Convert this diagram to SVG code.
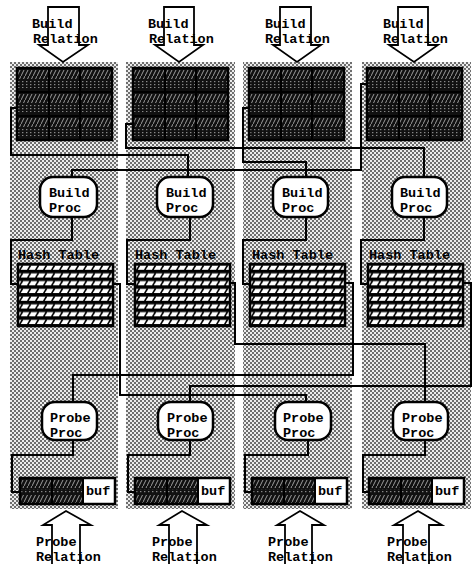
<svg xmlns="http://www.w3.org/2000/svg" xmlns:xlink="http://www.w3.org/1999/xlink" width="473" height="564" viewBox="0 0 473 564">
<style>
.t{font-family:"Liberation Mono","Courier New",monospace;font-weight:bold;font-size:13.5px;fill:#000}
.panel{fill:url(#stip)}
.node{fill:#fff;stroke:#000;stroke-width:2.5}
.arrow{fill:#fff;stroke:#000;stroke-width:1.8;stroke-linejoin:miter}
.wire{fill:none;stroke:#000;stroke-width:2}
.div{stroke:#000;stroke-width:2}
</style>
<defs>
<pattern id="stip" x="0" y="0" width="4" height="4" patternUnits="userSpaceOnUse">
<rect width="4" height="4" fill="#ececec"/>
<rect x="0" y="0" width="2" height="2" fill="#6e6e6e"/>
<rect x="2" y="2" width="2" height="2" fill="#6e6e6e"/>
</pattern>
<pattern id="hatch" x="0" y="0" width="4" height="8" patternUnits="userSpaceOnUse">
<rect width="4" height="8" fill="#111"/>
<line x1="0" y1="8" x2="4" y2="0" stroke="#aaa" stroke-width="0.9"/>
</pattern>
<pattern id="dots" x="0" y="0" width="4" height="3" patternUnits="userSpaceOnUse">
<rect width="4" height="3" fill="#111"/>
<rect x="1" y="1" width="1.4" height="1.2" fill="#888"/>
</pattern>
<pattern id="ht" x="0" y="0" width="8" height="7.75" patternUnits="userSpaceOnUse">
<rect width="8" height="7.75" fill="#000"/>
<rect x="0" y="1.6" width="8" height="4.2" fill="#fff"/>
<line x1="1.6" y1="6.2" x2="4.6" y2="1.2" stroke="#000" stroke-width="1.6"/>
</pattern>
<g id="topbuf">
<rect x="0" y="0" width="95" height="72" fill="#111"/>
<rect x="1" y="2" width="93" height="9" fill="url(#hatch)"/>
<rect x="1" y="13" width="93" height="7" fill="url(#dots)"/>
<rect x="1" y="26" width="93" height="9" fill="url(#hatch)"/>
<rect x="1" y="37" width="93" height="7" fill="url(#dots)"/>
<rect x="1" y="50" width="93" height="9" fill="url(#hatch)"/>
<rect x="1" y="61" width="93" height="7" fill="url(#dots)"/>
<line class="div" x1="32" y1="0" x2="32" y2="72"/>
<line class="div" x1="63" y1="0" x2="63" y2="72"/>
<line class="div" x1="0" y1="24" x2="95" y2="24"/>
<line class="div" x1="0" y1="48" x2="95" y2="48"/>
<rect x="0" y="0" width="95" height="72" fill="none" stroke="#000" stroke-width="2.5"/>
</g>
<g id="hashtbl">
<rect x="0" y="0" width="95" height="62" fill="url(#ht)" stroke="#000" stroke-width="2.5"/>
</g>
<g id="botbuf">
<rect x="0" y="0" width="63" height="26" fill="#111"/>
<rect x="1" y="2" width="62" height="8" fill="url(#hatch)"/>
<rect x="1" y="11" width="62" height="5" fill="url(#dots)"/>
<rect x="1" y="17" width="62" height="8" fill="url(#hatch)"/>
<rect x="63" y="0" width="32" height="26" fill="#fff"/>
<line class="div" x1="32" y1="0" x2="32" y2="26"/>
<line class="div" x1="63" y1="0" x2="63" y2="26"/>
<rect x="0" y="0" width="95" height="26" fill="none" stroke="#000" stroke-width="2.5"/>
</g>
</defs>
<rect width="473" height="564" fill="#fff"/>
<g id="panels">
<rect class="panel" x="10" y="62" width="108" height="447"/>
<rect class="panel" x="126" y="62" width="109" height="447"/>
<rect class="panel" x="243" y="62" width="109" height="447"/>
<rect class="panel" x="362" y="62" width="109" height="447"/>
</g>
<g id="buildrel1"><polygon class="arrow" points="48,7 79,7 79,45 88,45 63,62 39,45 48,45"/><text class="t" x="32" y="28">Build</text><text class="t" x="33" y="43">Relation</text></g>
<g id="buildrel2"><polygon class="arrow" points="164,7 194,7 194,45 203,45 179,62 155,45 164,45"/><text class="t" x="148" y="28">Build</text><text class="t" x="149" y="43">Relation</text></g>
<g id="buildrel3"><polygon class="arrow" points="280,7 311,7 311,45 321,45 297,62 273,45 280,45"/><text class="t" x="265" y="28">Build</text><text class="t" x="265" y="43">Relation</text></g>
<g id="buildrel4"><polygon class="arrow" points="398,7 428,7 428,45 438,45 414,62 389,45 398,45"/><text class="t" x="383" y="28">Build</text><text class="t" x="383" y="43">Relation</text></g>
<g id="inbuf1"><use xlink:href="#topbuf" x="17" y="68"/></g>
<g id="inbuf2"><use xlink:href="#topbuf" x="133" y="68"/></g>
<g id="inbuf3"><use xlink:href="#topbuf" x="249" y="68"/></g>
<g id="inbuf4"><use xlink:href="#topbuf" x="367" y="68"/></g>
<g id="connectors">
<path class="wire" d="M17,108 H11 V155 H188 V177"/>
<path class="wire" d="M133,124 H126 V148 H424 V177"/>
<path class="wire" d="M249,108 H243 V162 H306 V177"/>
<path class="wire" d="M367,84 H361 V170 H72 V177"/>
<path class="wire" d="M72,217 V240 H11 V284 H18"/>
<path class="wire" d="M190,217 V240 H127 V284 H135"/>
<path class="wire" d="M306,217 V240 H243 V284 H250"/>
<path class="wire" d="M424,217 V240 H361 V284 H368"/>
<path class="wire" d="M113,284 H120 V395 H306 V402"/>
<path class="wire" d="M229,283 H235 V344 H425 V402"/>
<path class="wire" d="M345,283 H353 V375 H73 V402"/>
<path class="wire" d="M463,283 H471 V386 H190 V402"/>
<path class="wire" d="M73,440 V455 H12 V492 H20"/>
<path class="wire" d="M190,440 V455 H128 V492 H135"/>
<path class="wire" d="M308,440 V455 H245 V492 H252"/>
<path class="wire" d="M425,440 V455 H363 V492 H369"/>
</g>
<g id="build1"><rect class="node" x="40" y="177" width="57" height="40" rx="13"/><text class="t" x="49" y="197">Build</text><text class="t" x="49" y="212">Proc</text></g>
<g id="build2"><rect class="node" x="157" y="177" width="56" height="40" rx="13"/><text class="t" x="166" y="197">Build</text><text class="t" x="166" y="212">Proc</text></g>
<g id="build3"><rect class="node" x="273" y="177" width="55" height="40" rx="13"/><text class="t" x="282" y="197">Build</text><text class="t" x="282" y="212">Proc</text></g>
<g id="build4"><rect class="node" x="392" y="177" width="55" height="40" rx="13"/><text class="t" x="400" y="197">Build</text><text class="t" x="400" y="212">Proc</text></g>
<g id="hash1"><text class="t" x="18" y="259">Hash Table</text><use xlink:href="#hashtbl" x="18" y="264"/></g>
<g id="hash2"><text class="t" x="135" y="259">Hash Table</text><use xlink:href="#hashtbl" x="135" y="264"/></g>
<g id="hash3"><text class="t" x="252" y="259">Hash Table</text><use xlink:href="#hashtbl" x="250" y="264"/></g>
<g id="hash4"><text class="t" x="369" y="259">Hash Table</text><use xlink:href="#hashtbl" x="368" y="264"/></g>
<g id="probe1"><rect class="node" x="42" y="402" width="55" height="38" rx="13"/><text class="t" x="50" y="422">Probe</text><text class="t" x="50" y="437">Proc</text></g>
<g id="probe2"><rect class="node" x="158" y="402" width="55" height="38" rx="13"/><text class="t" x="167" y="422">Probe</text><text class="t" x="167" y="437">Proc</text></g>
<g id="probe3"><rect class="node" x="275" y="402" width="56" height="38" rx="13"/><text class="t" x="283" y="422">Probe</text><text class="t" x="283" y="437">Proc</text></g>
<g id="probe4"><rect class="node" x="393" y="402" width="55" height="38" rx="13"/><text class="t" x="402" y="422">Probe</text><text class="t" x="402" y="437">Proc</text></g>
<g id="outbuf1"><use xlink:href="#botbuf" x="20" y="478"/><text class="t" x="86" y="495">buf</text></g>
<g id="outbuf2"><use xlink:href="#botbuf" x="135" y="478"/><text class="t" x="201" y="495">buf</text></g>
<g id="outbuf3"><use xlink:href="#botbuf" x="252" y="478"/><text class="t" x="318" y="495">buf</text></g>
<g id="outbuf4"><use xlink:href="#botbuf" x="369" y="478"/><text class="t" x="435" y="495">buf</text></g>
<g id="proberel1"><polygon class="arrow" points="66,511 91,525 80,525 80,566 52,566 52,525 43,525"/><text class="t" x="36" y="546">Probe</text><text class="t" x="36" y="561">Relation</text></g>
<g id="proberel2"><polygon class="arrow" points="182,511 207,525 197,525 197,566 169,566 169,525 159,525"/><text class="t" x="152" y="546">Probe</text><text class="t" x="152" y="561">Relation</text></g>
<g id="proberel3"><polygon class="arrow" points="300,511 324,525 312,525 312,566 285,566 285,525 277,525"/><text class="t" x="268" y="546">Probe</text><text class="t" x="268" y="561">Relation</text></g>
<g id="proberel4"><polygon class="arrow" points="418,511 442,525 429,525 429,566 403,566 403,525 394,525"/><text class="t" x="387" y="546">Probe</text><text class="t" x="387" y="561">Relation</text></g>
</svg>
